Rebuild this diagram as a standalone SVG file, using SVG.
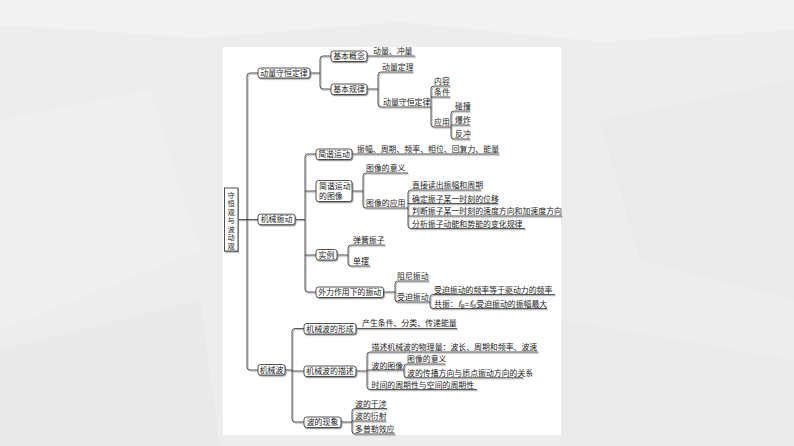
<svg xmlns="http://www.w3.org/2000/svg" width="794" height="446" viewBox="0 0 794 446">
<defs>
<filter id="sh" x="-5%" y="-5%" width="110%" height="130%">
<feDropShadow dx="0.9" dy="1.2" stdDeviation="0.35" flood-color="#777" flood-opacity="0.8"/>
</filter>
</defs>
<style>
.t{font-family:"Noto Sans CJK SC","Noto Sans",sans-serif;font-size:7.9px;fill:#1a1a1a}
.c{text-anchor:middle}
.r{font-size:7.2px}
.b{fill:#fff;stroke:#2a2a2a;stroke-width:0.8}
.l{fill:none;stroke:#2a2a2a;stroke-width:0.8}
</style>
<rect width="794" height="446" fill="#ededed"/>
<polygon points="0,0 794,0 794,30 600,42 400,22 200,38 0,25" fill="#f2f2f2"/>
<polygon points="0,120 150,90 200,250 0,330" fill="#efefef"/>
<polygon points="600,120 794,80 794,300 640,260" fill="#eaeaea"/>
<polygon points="0,350 200,300 220,446 0,446" fill="#e9e9e9"/>
<polygon points="560,320 794,360 794,446 560,446" fill="#eaeaea"/>
<rect x="223" y="47" width="338" height="388" fill="#fff"/>

<g id="connectors" class="l" filter="url(#sh)">
<path d="M238,219.5 H247"/>
<path d="M258,73 H250 Q247,73 247,76 V367 Q247,370 250,370 H258 M247,219.5 H258"/>
<path d="M310,73 H320 M331,56 H323 Q320,56 320,59 V86 Q320,89 323,89 H331"/>
<path d="M367,56 H415"/>
<path d="M367,89 H378 M413,72 H381 Q378,72 378,75 V104 Q378,107 381,107 H431"/>
<path d="M450,86 H434 Q431,86 431,89 V124 Q431,127 434,127 H451 M431,97 H450"/>
<path d="M470,111 H454 Q451,111 451,114 V136 Q451,139 454,139 H470 M451,125 H470"/>
<path d="M295,219.5 H305 M316,154 H308 Q305,154 305,157 V289 Q305,292 308,292 H316 M305,191 H316 M305,255 H316"/>
<path d="M352,154 H499"/>
<path d="M352,191 H363 M408,173 H366 Q363,173 363,176 V205 Q363,208 366,208 H408"/>
<path d="M481,190 H411 Q408,190 408,193 V225.5 Q408,228.5 411,228.5 H525 M408,203.5 H498 M408,216 H562"/>
<path d="M337,255 H348 M385,245 H351 Q348,245 348,248 V263 Q348,266 351,266 H370"/>
<path d="M383.5,292 H395 M429,281 H398 Q395,281 395,284 V299 Q395,302 398,302 H430"/>
<path d="M555,294.5 H433 Q430,294.5 430,297.5 V305.5 Q430,308.5 433,308.5 H547"/>
<path d="M285,370 H292 M304,328.5 H295 Q292,328.5 292,331.5 V419 Q292,422 295,422 H304 M292,371 H304"/>
<path d="M356,328.5 H457"/>
<path d="M356,371 H367 M538,352 H370 Q367,352 367,355 V386.5 Q367,389.5 370,389.5 H477 M367,370 H404"/>
<path d="M445,364 H407 Q404,364 404,367 V374.7 Q404,377.7 407,377.7 H523"/>
<path d="M341,422 H352 M387,408.5 H355 Q352,408.5 352,411.5 V431 Q352,434 355,434 H395 M352,421 H386"/>
</g>

<g id="root">
<rect class="b" x="224.5" y="188" width="13.5" height="63" filter="url(#sh)"/>
<text class="t c r" x="231.2"><tspan x="231.2" y="197.8">守</tspan><tspan x="231.2" y="206.3">恒</tspan><tspan x="231.2" y="214.8">观</tspan><tspan x="231.2" y="223.3">与</tspan><tspan x="231.2" y="231.8">波</tspan><tspan x="231.2" y="240.3">动</tspan><tspan x="231.2" y="248.8">观</tspan></text>
</g>

<g id="n-dlshd"><rect class="b" x="258" y="68" width="52" height="10" rx="2.5" filter="url(#sh)"/><text class="t c" x="284" y="75.9">动量守恒定律</text></g>
<g id="n-jbgn"><rect class="b" x="331" y="51" width="36" height="10.5" rx="2.5" filter="url(#sh)"/><text class="t c" x="349" y="59">基本概念</text></g>
<g id="n-jbgl"><rect class="b" x="331" y="84" width="36" height="10.5" rx="2.5" filter="url(#sh)"/><text class="t c" x="349" y="92">基本规律</text></g>
<g id="n-dlcl"><text class="t" x="373" y="54">动量、冲量</text></g>
<g id="n-dldl"><text class="t" x="382" y="70">动量定理</text></g>
<g id="n-dlsh2"><text class="t" x="383" y="105">动量守恒定律</text></g>
<g id="n-nr"><text class="t" x="434" y="84">内容</text></g>
<g id="n-tj"><text class="t" x="434" y="95">条件</text></g>
<g id="n-yy"><text class="t" x="434" y="125">应用</text></g>
<g id="n-pz"><text class="t" x="455" y="109">碰撞</text></g>
<g id="n-bz"><text class="t" x="455" y="123">爆炸</text></g>
<g id="n-fc"><text class="t" x="455" y="137">反冲</text></g>

<g id="n-jxzd"><rect class="b" x="258" y="214.2" width="37" height="10.5" rx="2.5" filter="url(#sh)"/><text class="t c" x="276.5" y="222.4">机械振动</text></g>
<g id="n-jxyd"><rect class="b" x="316" y="149" width="36" height="10.5" rx="2.5" filter="url(#sh)"/><text class="t c" x="334" y="157">简谐运动</text></g>
<g id="n-jxydtx"><rect class="b" x="316" y="180.5" width="36" height="21" rx="2.5" filter="url(#sh)"/><text class="t" x="319" y="189">简谐运动</text><text class="t" x="319" y="198.5">的图像</text></g>
<g id="n-zf"><text class="t" x="357" y="152">振幅、周期、频率、相位、回复力、能量</text></g>
<g id="n-txyy"><text class="t" x="366" y="171">图像的意义</text></g>
<g id="n-txyyy"><text class="t" x="366" y="206">图像的应用</text></g>
<g id="n-a1"><text class="t" x="412" y="188">直接读出振幅和周期</text></g>
<g id="n-a2"><text class="t" x="412" y="201.5">确定振子某一时刻的位移</text></g>
<g id="n-a3"><text class="t" x="412" y="214">判断振子某一时刻的速度方向和加速度方向</text></g>
<g id="n-a4"><text class="t" x="412" y="226.5">分析振子动能和势能的变化规律</text></g>
<g id="n-sl"><rect class="b" x="316" y="249.5" width="21" height="10.5" rx="2.5" filter="url(#sh)"/><text class="t c" x="326.5" y="257.6">实例</text></g>
<g id="n-thzz"><text class="t" x="353" y="243">弹簧振子</text></g>
<g id="n-db"><text class="t" x="353" y="264">单摆</text></g>
<g id="n-wl"><rect class="b" x="316" y="287" width="67.5" height="10.5" rx="2.5" filter="url(#sh)"/><text class="t c" x="349.7" y="295">外力作用下的振动</text></g>
<g id="n-zn"><text class="t" x="397" y="279">阻尼振动</text></g>
<g id="n-sp"><text class="t" x="397" y="300">受迫振动</text></g>
<g id="n-sp1"><text class="t" x="434" y="292.5">受迫振动的频率等于驱动力的频率</text></g>
<g id="n-gz"><text class="t" x="434" y="306.5">共振：<tspan font-style="italic">f</tspan><tspan font-size="4.5" dy="1.5">驱</tspan><tspan dy="-1.5">=</tspan><tspan font-style="italic">f</tspan><tspan font-size="4.5" dy="1.5">固</tspan><tspan dy="-1.5">受迫振动的振幅最大</tspan></text></g>

<g id="n-jxb"><rect class="b" x="258" y="364.5" width="27" height="10.5" rx="2.5" filter="url(#sh)"/><text class="t c" x="271.5" y="372.6">机械波</text></g>
<g id="n-xc"><rect class="b" x="304" y="323.5" width="52" height="10.5" rx="2.5" filter="url(#sh)"/><text class="t c" x="330" y="331.5">机械波的形成</text></g>
<g id="n-cstj"><text class="t" x="362" y="326">产生条件、分类、传递能量</text></g>
<g id="n-ms"><rect class="b" x="304" y="366" width="52" height="10.5" rx="2.5" filter="url(#sh)"/><text class="t c" x="330" y="374">机械波的描述</text></g>
<g id="n-wlql"><text class="t" x="371.5" y="350">描述机械波的物理量：波长、周期和频率、波速</text></g>
<g id="n-bdtx"><text class="t" x="371.5" y="368.5">波的图像</text></g>
<g id="n-txyy2"><text class="t" x="407" y="362">图像的意义</text></g>
<g id="n-cbfx"><text class="t" x="407" y="375.7">波的传播方向与质点振动方向的关系</text></g>
<g id="n-zqx"><text class="t" x="371.5" y="387.5">时间的周期性与空间的周期性</text></g>
<g id="n-xx"><rect class="b" x="304" y="417" width="37" height="10.5" rx="2.5" filter="url(#sh)"/><text class="t c" x="322.5" y="425">波的现象</text></g>
<g id="n-gs"><text class="t" x="355" y="406.5">波的干涉</text></g>
<g id="n-ys"><text class="t" x="355" y="419">波的衍射</text></g>
<g id="n-dpl"><text class="t" x="355" y="432">多普勒效应</text></g>
</svg>
